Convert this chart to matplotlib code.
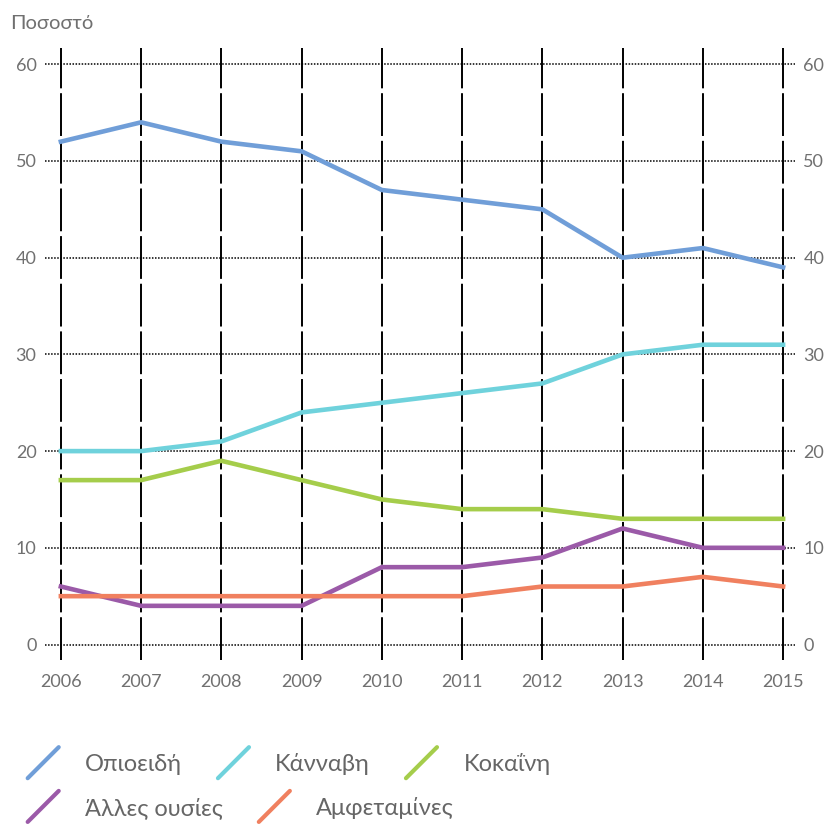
import matplotlib.pyplot as plt
from matplotlib.lines import Line2D
from matplotlib.legend_handler import HandlerBase

plt.rcParams['font.family'] = ['Lato', 'Noto Sans', 'DejaVu Sans']

years = [2006, 2007, 2008, 2009, 2010, 2011, 2012, 2013, 2014, 2015]
opioids = [52, 54, 52, 51, 47, 46, 45, 40, 41, 39]
cannabis = [20, 20, 21, 24, 25, 26, 27, 30, 31, 31]
cocaine = [17, 17, 19, 17, 15, 14, 14, 13, 13, 13]
other = [6, 4, 4, 4, 8, 8, 9, 12, 10, 10]
amphetamines = [5, 5, 5, 5, 5, 5, 6, 6, 7, 6]

labels = ['Οπιοειδή', 'Κάνναβη', 'Κοκαΐνη', 'Άλλες ουσίες', 'Αμφεταμίνες']
colors = ['#709ed8', '#6fd2dc', '#a5cd4b', '#9b5aa8', '#f0805f']
series = [opioids, cannabis, cocaine, other, amphetamines]
yticks = [0, 10, 20, 30, 40, 50, 60]


class DiagHandler(HandlerBase):
    # legend key drawn as a short 45 degree stroke
    def create_artists(self, legend, orig_handle, xdescent, ydescent,
                       width, height, fontsize, trans):
        x0 = -xdescent
        yc = height / 2 - ydescent
        line = Line2D([x0 + 2, x0 + width - 2],
                      [yc - width / 2 + 2, yc + width / 2 - 2],
                      color=orig_handle.get_color(), lw=3,
                      solid_capstyle='round', transform=trans)
        return [line]


fig = plt.figure(figsize=(8.3, 8.25), dpi=100)
ax = fig.add_axes([0.054, 0.2, 0.904, 0.742])

# grid
for y in yticks:
    ax.axhline(y, color='black', lw=1.1, linestyle=(0, (1, 1)), zorder=1)
for x in years:
    ax.axvline(x, color='black', lw=1.4, linestyle=(0, (22, 2.5)), zorder=1)

handles = []
for vals, col, lab in zip(series, colors, labels):
    h, = ax.plot(years, vals, color=col, lw=3.3, label=lab, zorder=3)
    handles.append(h)

ax.set_xlim(2005.8, 2015.15)
ax.set_ylim(-1.6, 61.7)
ax.set_xticks(years)
ax.set_yticks(yticks)
for s in ax.spines.values():
    s.set_visible(False)
ax.tick_params(length=0, labelsize=13, labelcolor='#707070',
               labelright=True, pad=6)
ax.tick_params(axis='x', pad=10)

fig.text(0.012, 0.972, 'Ποσοστό', fontsize=14.5, color='#707070',
         ha='left', va='center')

hmap = {Line2D: DiagHandler()}
leg_kw = dict(frameon=False, fontsize=17, labelcolor='#666666',
              handlelength=1.55, handletextpad=1.0, columnspacing=1.4,
              borderpad=0, borderaxespad=0, handler_map=hmap,
              loc='center left')
fig.legend(handles[:3], labels[:3], ncol=3,
           bbox_to_anchor=(0.03, 0.074), **leg_kw)
fig.legend(handles[3:], labels[3:], ncol=2,
           bbox_to_anchor=(0.03, 0.021), **leg_kw)

fig.savefig('out.png', dpi=100)
